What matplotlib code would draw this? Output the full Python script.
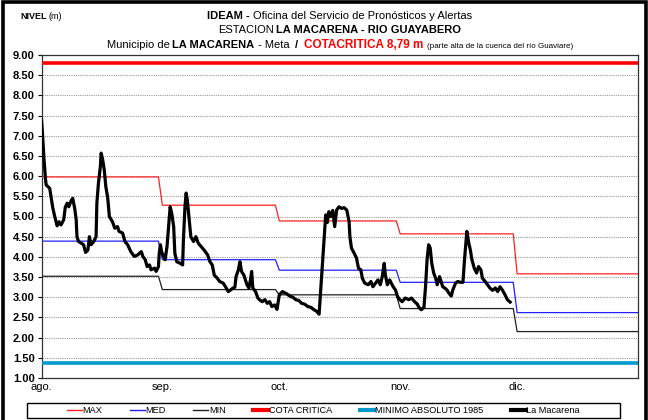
import datetime as dt
import matplotlib
matplotlib.use('Agg')
import matplotlib.pyplot as plt
import matplotlib.dates as mdates
from matplotlib.lines import Line2D
from matplotlib.patches import Rectangle

# niveles de referencia mensuales (ago - dic)
meses = ['ago.', 'sep.', 'oct.', 'nov.', 'dic.']
inicio_mes = [dt.date(2020, 8, 1), dt.date(2020, 9, 1), dt.date(2020, 10, 1),
              dt.date(2020, 11, 1), dt.date(2020, 12, 1)]
fin_eje = dt.date(2021, 1, 1)
nivel_max = [5.98, 5.28, 4.89, 4.57, 3.58]
nivel_med = [4.39, 3.93, 3.67, 3.37, 2.62]
nivel_min = [3.52, 3.19, 3.06, 2.72, 2.15]
cota_critica = 8.79
minimo_1985 = 1.36

# lecturas de la estacion (dias desde 1 ago, nivel en m)
dias_obs = [
    0.0, 0.3, 0.6, 1.0, 1.2, 2.1, 2.5, 2.9, 3.4, 4.0, 4.5, 5.0, 5.7, 6.1, 6.6,
    7.0, 7.6, 8.0, 8.5, 8.9, 9.1, 9.5, 10.2, 10.8, 11.3, 11.9, 12.3, 12.7, 13.4,
    14.0, 14.2, 14.6, 15.1, 15.3, 15.7, 16.1, 16.5, 17.0, 17.4, 18.2, 18.8,
    19.5, 19.9, 20.8, 21.4, 22.1, 22.9, 23.8, 24.7, 25.6, 26.0, 26.6, 27.1,
    27.7, 28.1, 29.0, 29.4, 30.0, 30.2, 30.5, 30.8, 31.3, 31.7, 32.2, 32.6,
    33.0, 33.4, 33.9, 34.2, 34.7, 35.6, 36.2, 36.4, 36.8, 37.1, 37.4, 37.9,
    38.3, 39.0, 39.6, 40.2, 40.9, 41.7, 42.6, 43.2, 43.8, 44.3, 45.1, 45.7,
    46.6, 47.2, 47.9, 48.5, 49.0, 49.6, 49.9, 50.5, 50.9, 51.3, 51.9, 52.3,
    52.7, 53.2, 53.6, 53.9, 54.2, 54.9, 55.5, 55.9, 56.6, 57.3, 57.9, 58.5,
    59.1, 59.8, 60.4, 61.0, 61.8, 63.0, 63.8, 64.5, 65.2, 66.0, 66.7, 67.5,
    68.3, 69.1, 69.9, 70.6, 71.2, 72.9, 73.3, 73.7, 74.2, 74.7, 75.2, 75.7,
    76.3, 77.0, 77.6, 78.3, 78.9, 79.1, 79.5, 80.2, 80.8, 81.3, 81.9, 82.3,
    82.9, 83.8, 84.5, 85.0, 85.7, 86.3, 86.9, 87.4, 87.9, 88.2, 88.7, 89.3,
    90.2, 90.8, 91.3, 91.9, 92.5, 93.3, 94.2, 94.9, 95.7, 96.4, 96.8, 97.4,
    98.1, 98.5, 98.9, 99.3, 99.7, 100.1, 100.6, 101.1, 101.5, 102.1, 102.5,
    102.9, 103.4, 104.0, 104.5, 105.1, 105.5, 106.2, 106.8, 107.4, 108.1,
    108.5, 108.9, 109.1, 109.6, 110.0, 110.4, 111.0, 111.6, 112.1, 112.7,
    113.1, 113.8, 114.4, 115.0, 115.7, 116.4, 117.0, 117.6, 118.2, 118.9,
    119.5, 120.2]
nivel_obs = [
    7.40, 6.98, 6.48, 5.95, 5.78, 5.70, 5.45, 5.21, 5.00, 4.77, 4.87, 4.79,
    4.92, 5.23, 5.33, 5.24, 5.39, 5.45, 5.21, 4.92, 4.50, 4.38, 4.34, 4.30,
    4.11, 4.17, 4.50, 4.30, 4.38, 4.50, 5.33, 5.82, 6.24, 6.57, 6.40, 6.15,
    5.74, 5.45, 5.00, 4.87, 4.71, 4.75, 4.63, 4.59, 4.38, 4.30, 4.13, 4.01,
    4.05, 4.13, 4.01, 3.93, 3.76, 3.80, 3.68, 3.72, 3.64, 3.76, 4.09, 4.30,
    4.13, 4.01, 3.93, 4.26, 4.75, 5.24, 5.08, 4.75, 4.09, 3.88, 3.84, 3.80,
    4.42, 5.24, 5.58, 5.41, 4.92, 4.50, 4.38, 4.50, 4.34, 4.26, 4.17, 4.05,
    3.88, 3.80, 3.55, 3.47, 3.39, 3.35, 3.26, 3.14, 3.18, 3.22, 3.25, 3.51,
    3.68, 3.88, 3.64, 3.55, 3.43, 3.31, 3.23, 3.43, 3.64, 3.23, 3.14, 2.98,
    2.94, 2.89, 2.94, 2.85, 2.89, 2.77, 2.81, 2.70, 3.06, 3.14, 3.08, 3.02,
    3.00, 2.94, 2.92, 2.85, 2.83, 2.77, 2.75, 2.69, 2.65, 2.58, 5.04, 4.85,
    5.12, 5.00, 5.15, 4.75, 5.16, 5.24, 5.20, 5.22, 5.16, 4.87, 4.50, 4.22,
    4.09, 3.97, 3.72, 3.68, 3.47, 3.35, 3.31, 3.39, 3.26, 3.35, 3.43, 3.31,
    3.51, 3.84, 3.55, 3.31, 3.43, 3.26, 3.18, 3.02, 2.94, 2.89, 2.98, 2.94,
    2.98, 2.89, 2.83, 2.75, 2.69, 2.75, 3.26, 3.93, 4.30, 4.22, 3.84, 3.60,
    3.47, 3.31, 3.51, 3.39, 3.26, 3.23, 3.18, 3.10, 3.03, 3.18, 3.35, 3.39,
    3.37, 3.37, 3.93, 4.42, 4.63, 4.34, 4.17, 3.93, 3.72, 3.60, 3.76, 3.68,
    3.47, 3.39, 3.31, 3.23, 3.17, 3.23, 3.14, 3.26, 3.18, 3.06, 2.94, 2.88]

plt.rcParams['font.family'] = ['Liberation Sans', 'DejaVu Sans']

fig = plt.figure(figsize=(6.48, 4.20), dpi=100)
ax = fig.add_axes([41.5 / 648, 1 - 378 / 420, (638 - 41.5) / 648, (378 - 55) / 420])


def escalones(valores):
    # cada mes plano; el cambio ocurre entre el ultimo dia y el primero del siguiente
    xs, ys = [], []
    limites = inicio_mes[1:] + [fin_eje]
    for ini, fin, v in zip(inicio_mes, limites, valores):
        ultimo = fin - dt.timedelta(days=1) if fin != fin_eje else fin
        xs += [ini, ultimo]
        ys += [v, v]
    return xs, ys


x0 = mdates.date2num(inicio_mes[0])
fechas_obs = [x0 + d for d in dias_obs]

for valores, color in [(nivel_max, '#ff2020'), (nivel_med, '#2020ff'), (nivel_min, '#202020')]:
    xs, ys = escalones(valores)
    ax.plot(xs, ys, color=color, lw=0.9, zorder=3)
ax.axhline(cota_critica, color='#ff0000', lw=2.6, zorder=3)
ax.axhline(minimo_1985, color='#0099cc', lw=2.6, zorder=3)
ax.plot(fechas_obs, nivel_obs, color='black', lw=2.3, zorder=4,
        solid_joinstyle='round')

ax.set_xlim(inicio_mes[0], fin_eje)
ax.set_ylim(1, 9)
ax.set_yticks([1 + 0.5 * i for i in range(17)])
ax.set_yticklabels(['%.2f' % (1 + 0.5 * i) for i in range(17)],
                   fontweight='bold', fontsize=8)
ax.set_xticks(inicio_mes)
ax.set_xticklabels(meses, fontsize=8)
ax.tick_params(axis='y', length=3, width=0.8, pad=2)
ax.tick_params(axis='x', length=0, pad=3)
ax.yaxis.grid(True, color='#9a9a9a', lw=0.8, linestyle=(0, (1, 1)))
ax.set_axisbelow(True)
for s in ax.spines.values():
    s.set_linewidth(0.9)
    s.set_color('#333333')

# marco general de la figura
fig.patches.append(Rectangle((0.004, -0.02), 0.993, 1.015, transform=fig.transFigure,
                             fill=False, lw=2.6, ec='black'))

r = fig.canvas.get_renderer()


def linea_texto(y, partes, xc):
    # partes: (texto, propiedades, espacio en px despues)
    items = []
    for s, kw, esp in partes:
        t = fig.text(0, y, s, ha='left', va='baseline', **kw)
        items.append((t, t.get_window_extent(r).width, esp))
    total = sum(w + e for _, w, e in items) - items[-1][2]
    x = xc * 648 - total / 2
    for t, w, e in items:
        t.set_x(x / 648)
        x += w + e


xc = (41.5 + 638) / 2 / 648
n = {'fontsize': 8}
b = {'fontsize': 8, 'fontweight': 'bold'}
linea_texto(1 - 19 / 420, [('IDEAM -', b, 3), ('Oficina del Servicio de Pronósticos y Alertas', n, 0)], xc)
linea_texto(1 - 33 / 420, [('ESTACION', n, 2), ('LA MACARENA - RIO GUAYABERO', b, 0)], xc)
linea_texto(1 - 47.5 / 420, [('Municipio de', n, 3), ('LA MACARENA', b, 3), ('- Meta', n, 6),
                             ('/', b, 6),
                             ('COTACRITICA 8,79 m', {'fontsize': 8.5, 'fontweight': 'bold', 'color': '#ff0000'}, 3),
                             ('(parte alta de la cuenca del río Guaviare)', {'fontsize': 5.8}, 0)], xc)

t1 = fig.text(20 / 648, 1 - 19 / 420, 'NIVEL', fontsize=6.5, fontweight='bold', va='baseline')
w1 = t1.get_window_extent(r).width
fig.text((20 + w1 + 2) / 648, 1 - 19 / 420, '(m)', fontsize=6.5, va='baseline')

# leyenda con recuadro propio
fig.patches.append(Rectangle((27 / 648, 1 - 418 / 420), 593 / 648, 15 / 420,
                             transform=fig.transFigure, fill=False, lw=1.0, ec='black'))
manijas = [Line2D([], [], color='#ff2020', lw=1.0), Line2D([], [], color='#2020ff', lw=1.0),
           Line2D([], [], color='#202020', lw=1.0), Line2D([], [], color='#ff0000', lw=3),
           Line2D([], [], color='#0099cc', lw=3), Line2D([], [], color='black', lw=3)]
etiquetas = ['MAX', 'MED', 'MIN', 'COTA CRITICA', 'MINIMO ABSOLUTO 1985', 'La Macarena']
fig.legend(manijas, etiquetas, loc='center', ncol=6, frameon=False,
           bbox_to_anchor=((27 + 620) / 2 / 648, 1 - 410.5 / 420),
           fontsize=6.6, handlelength=1.6, handletextpad=0.1, columnspacing=3.0,
           borderpad=0, borderaxespad=0)

fig.savefig('out.png', dpi=100)
